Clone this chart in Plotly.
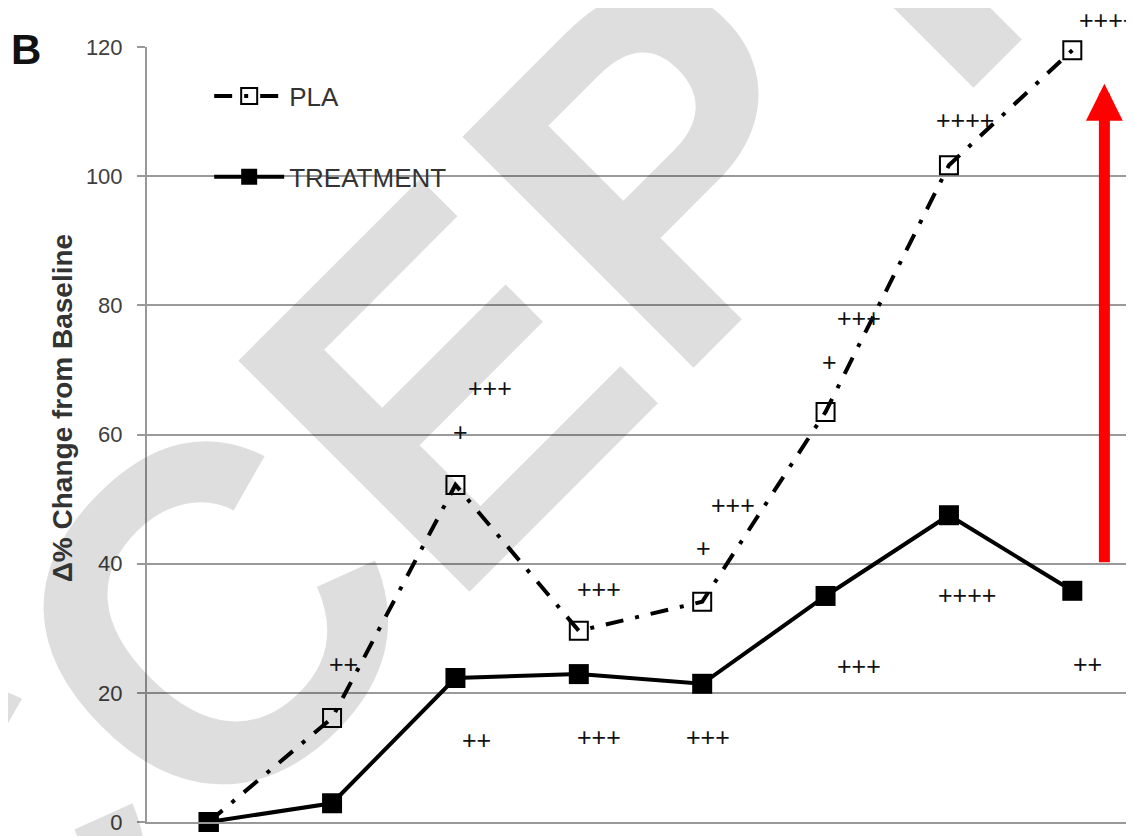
import plotly.graph_objects as go

# ---- data ----
timepoints = [0, 1, 2, 3, 4, 5, 6, 7]
pla_values = [0, 16.1, 52.2, 29.6, 34.1, 63.5, 101.7, 119.5]
treatment_values = [0, 2.9, 22.3, 22.9, 21.4, 35.0, 47.5, 35.8]

# significance marks (x position, y value, label)
pla_sig_x = [1.09, 2.04, 2.28, 3.16, 4.01, 4.25, 5.03, 5.27, 6.13, 7.29]
pla_sig_y = [24.5, 60.4, 67.2, 36.1, 42.4, 49.1, 71.2, 78.0, 108.7, 124.2]
pla_sig_txt = ["++", "+", "+++", "+++", "+", "+++", "+", "+++", "++++", "++++"]

trt_sig_x = [2.17, 3.16, 4.05, 5.27, 6.15, 7.12]
trt_sig_y = [12.7, 13.2, 13.2, 24.2, 35.2, 24.5]
trt_sig_txt = ["++", "+++", "+++", "+++", "++++", "++"]

arrow_x = 7.26
arrow_from = 40
arrow_to = 114.3

y_ticks = [0, 20, 40, 60, 80, 100, 120]
y_max = 120

FONT = "Liberation Sans, Arial, sans-serif"

fig = go.Figure()

fig.add_trace(go.Scatter(
    x=timepoints, y=pla_values, name="PLA", mode="lines+markers",
    line=dict(color="black", width=4, dash="18px,12px,4px,12px"),
    marker=dict(symbol="square-open", size=18, color="black", line=dict(width=2)),
    legendgroup="a", cliponaxis=False,
))
fig.add_trace(go.Scatter(
    x=timepoints, y=treatment_values, name="TREATMENT", mode="lines+markers",
    line=dict(color="black", width=4),
    marker=dict(symbol="square", size=20, color="black"),
    legendgroup="b", cliponaxis=False,
))

annotations = [
    # watermark
    dict(text="<b>ACCEPTED</b>", xref="paper", yref="paper", x=0.385, y=0.672,
         xanchor="center", yanchor="middle",
         showarrow=False, textangle=-45,
         font=dict(family=FONT, size=475, color="rgba(0,0,0,0.13)")),
    # panel label
    dict(text="<b>B</b>", xref="paper", yref="paper", x=-0.123, y=0.997,
         xanchor="center", yanchor="middle", showarrow=False,
         font=dict(family=FONT, size=42, color="#111")),
    # y title
    dict(text="<b>Δ% Change from Baseline</b>", xref="paper", yref="paper",
         x=-0.086, y=0.534, xanchor="center", yanchor="middle",
         showarrow=False, textangle=-90,
         font=dict(family=FONT, size=28, color="#333")),
    # red arrow
    dict(x=arrow_x, y=arrow_to, ax=arrow_x, ay=arrow_from, xref="x", yref="y",
         axref="x", ayref="y", showarrow=True, arrowhead=2, arrowsize=0.67,
         arrowwidth=11, arrowcolor="#ff0000", text=""),
]

# significance marks as data-anchored texts (marks above the axis top use the
# axis-domain reference so they are not hidden)
for xs, ys, ts in [(pla_sig_x, pla_sig_y, pla_sig_txt), (trt_sig_x, trt_sig_y, trt_sig_txt)]:
    for xv, yv, tv in zip(xs, ys, ts):
        if yv <= y_max:
            yref, ypos = "y", yv
        else:
            yref, ypos = "y domain", yv / y_max
        annotations.append(dict(
            x=xv, y=ypos, xref="x", yref=yref, text=tv, showarrow=False,
            xanchor="center", yanchor="middle",
            font=dict(family=FONT, size=25, color="#111")))

fig.update_layout(
    width=1134, height=836,
    margin=dict(l=139, r=8, t=39, b=22),
    paper_bgcolor="white", plot_bgcolor="white",
    showlegend=True,
    legend=dict(x=0.063, y=0.967, xanchor="left", yanchor="top",
                font=dict(family=FONT, size=26, color="#333"),
                itemwidth=70, tracegroupgap=44, traceorder="grouped",
                bgcolor="rgba(0,0,0,0)"),
    annotations=annotations,
    xaxis=dict(range=[-0.5, 7.5], showticklabels=False, showgrid=False,
               zeroline=False, showline=True, linecolor="#999", linewidth=2,
               ticks="", automargin=False),
    yaxis=dict(range=[0, y_max], tickvals=y_ticks, showgrid=True, gridcolor="#9a9a9a",
               gridwidth=1.5, zeroline=False, showline=True, linecolor="#999",
               linewidth=2, ticks="outside", ticklen=8, tickcolor="#999",
               tickwidth=1.5, ticklabelstandoff=10, automargin=False,
               tickfont=dict(family=FONT, size=22, color="#404040")),
)

fig.write_html("out.html")
